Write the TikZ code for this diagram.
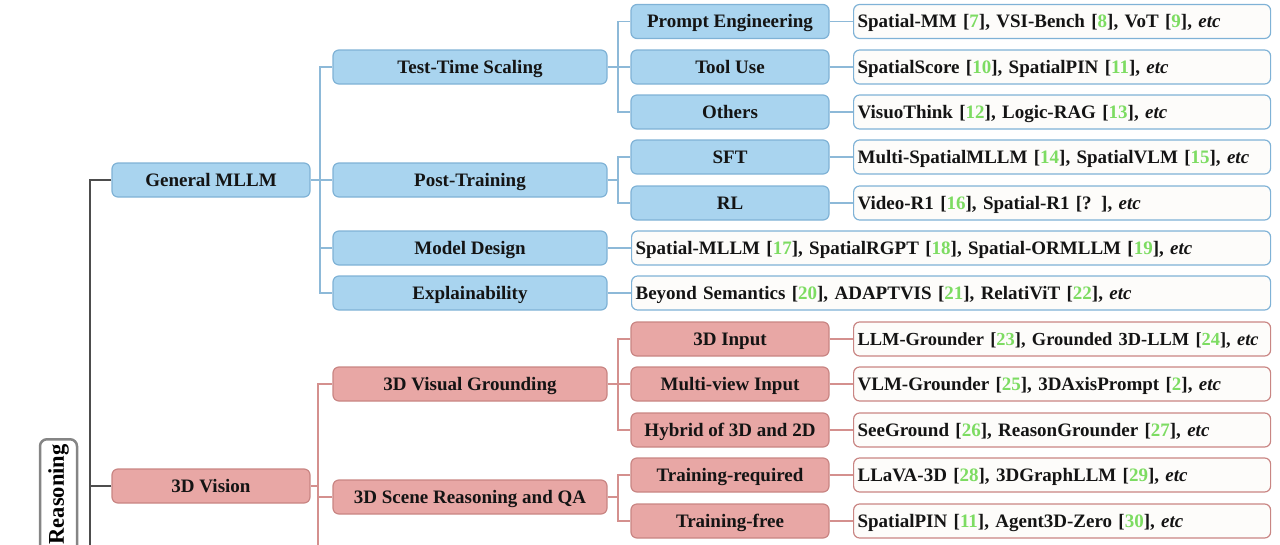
\documentclass[tikz,border=0pt]{standalone}
\usepackage{fontspec}
\setmainfont{Liberation Serif}
\definecolor{bfill}{HTML}{A9D4EF}
\definecolor{bdraw}{HTML}{7FB2D6}
\definecolor{bline}{HTML}{8DB9D8}
\definecolor{pfill}{HTML}{E8A7A5}
\definecolor{pdraw}{HTML}{C98583}
\definecolor{pline}{HTML}{D4908E}
\definecolor{leaffill}{HTML}{FDFCFA}
\definecolor{citeg}{HTML}{7DDC62}
\definecolor{rootline}{HTML}{4D4D4D}
\definecolor{rootdraw}{HTML}{858585}
\newcommand\cn[1]{[{\color{citeg}#1}]}
\begin{document}
\begin{tikzpicture}[x=1pt,y=-1pt,
  box/.style={draw, rounded corners=6pt, line width=1.2pt, minimum height=34pt, inner sep=0pt,
    text height=14pt, text depth=1.4pt,
    font=\fontsize{19}{22}\selectfont\bfseries, text=black!92},
  bb/.style={box, fill=bfill, draw=bdraw},
  pb/.style={box, fill=pfill, draw=pdraw},
  wa/.style={minimum width=198pt},
  wb/.style={minimum width=274pt},
  leaf/.style={box, fill=leaffill, anchor=west, align=left, inner xsep=4pt, text width=#1},
  bleaf/.style={leaf=#1, draw=bdraw},
  pleaf/.style={leaf=#1, draw=pdraw},
  cb/.style={draw=bline, line width=1.6pt},
  cp/.style={draw=pline, line width=1.6pt},
  c0/.style={draw=rootline, line width=1.6pt},
  rootbox/.style={draw=rootdraw, line width=2.5pt, rounded corners=7pt, fill=white,
    minimum height=37pt, text width=246pt, align=right, inner xsep=5pt, inner ysep=0pt,
    font=\fontsize{22.5}{26}\selectfont\bfseries}]
\useasboundingbox (0,0) rectangle (1280,544);
\clip (0,0) rectangle (1280,544);

% root
\node[rootbox, rotate=90, anchor=east] (root) at (58.5,438) {Reasoning};

% level 1
\node[bb,wa] (gm) at (211,180) {General MLLM};
\node[pb,wa] (v3d) at (211,486) {3D Vision};

% level 2
\node[bb,wb] (tts) at (470,67) {Test-Time Scaling};
\node[bb,wb] (pt) at (470,180) {Post-Training};
\node[bb,wb] (md) at (470,248) {Model Design};
\node[bb,wb] (ex) at (470,293) {Explainability};
\node[pb,wb] (vg) at (470,384) {3D Visual Grounding};
\node[pb,wb] (sr) at (470,497) {3D Scene Reasoning and QA};

% level 3
\node[bb,wa] (pe) at (730,21.5) {Prompt Engineering};
\node[bb,wa] (tu) at (730,67) {Tool Use};
\node[bb,wa] (ot) at (730,112) {Others};
\node[bb,wa] (sft) at (730,157) {SFT};
\node[bb,wa] (rl) at (730,203) {RL};
\node[pb,wa] (in3) at (730,339) {3D Input};
\node[pb,wa] (mv) at (730,384) {Multi-view Input};
\node[pb,wa] (hy) at (730,430) {Hybrid of 3D and 2D};
\node[pb,wa] (tr) at (730,475) {Training-required};
\node[pb,wa] (tf) at (730,521) {Training-free};

% leaves
\node[bleaf=409pt] (lpe) at (853,21.5) {Spatial-MM \cn{7}, VSI-Bench \cn{8}, VoT \cn{9}, \textit{etc}};
\node[bleaf=409pt] (ltu) at (853,67) {SpatialScore \cn{10}, SpatialPIN \cn{11}, \textit{etc}};
\node[bleaf=409pt] (lot) at (853,112) {VisuoThink \cn{12}, Logic-RAG \cn{13}, \textit{etc}};
\node[bleaf=409pt] (lsft) at (853,157) {Multi-SpatialMLLM \cn{14}, SpatialVLM \cn{15}, \textit{etc}};
\node[bleaf=409pt] (lrl) at (853,203) {Video-R1 \cn{16}, Spatial-R1 [? ], \textit{etc}};
\node[bleaf=631pt] (lmd) at (631,248) {Spatial-MLLM \cn{17}, SpatialRGPT \cn{18}, Spatial-ORMLLM \cn{19}, \textit{etc}};
\node[bleaf=631pt] (lex) at (631,293) {Beyond Semantics \cn{20}, ADAPTVIS \cn{21}, RelatiViT \cn{22}, \textit{etc}};
\node[pleaf=409pt] (lin3) at (853,339) {\mbox{\fontsize{18.4}{22}\selectfont LLM-Grounder \cn{23}, Grounded 3D-LLM \cn{24}, \textit{etc}}};
\node[pleaf=409pt] (lmv) at (853,384) {VLM-Grounder \cn{25}, 3DAxisPrompt \cn{2}, \textit{etc}};
\node[pleaf=409pt] (lhy) at (853,430) {SeeGround \cn{26}, ReasonGrounder \cn{27}, \textit{etc}};
\node[pleaf=409pt] (ltr) at (853,475) {LLaVA-3D \cn{28}, 3DGraphLLM \cn{29}, \textit{etc}};
\node[pleaf=409pt] (ltf) at (853,521) {SpatialPIN \cn{11}, Agent3D-Zero \cn{30}, \textit{etc}};

% junction columns
\coordinate (j0) at (90,0);
\coordinate (jb) at (320,0);
\coordinate (jp) at (318,0);
\coordinate (pmore) at (318,600);
\coordinate (j3) at (618,0);

% root connectors
\draw[c0] (gm.west) -- (gm.west -| j0) |- (root.south);
\draw[c0] (v3d.west) -- (v3d.west -| j0);

% general MLLM connectors
\draw[cb] (tts.west) -- (tts.west -| jb) |- (ex.west);
\draw[cb] (gm.east) -- (gm.east -| jb);
\draw[cb] (pt.west) -- (pt.west -| jb);
\draw[cb] (md.west) -- (md.west -| jb);

\draw[cb] (pe.west) -- (pe.west -| j3) |- (ot.west);
\draw[cb] (tts.east) -- (tu.west);
\draw[cb] (sft.west) -- (sft.west -| j3) |- (rl.west);
\draw[cb] (pt.east) -- (pt.east -| j3);

\draw[cb] (pe.east) -- (lpe.west);
\draw[cb] (tu.east) -- (ltu.west);
\draw[cb] (ot.east) -- (lot.west);
\draw[cb] (sft.east) -- (lsft.west);
\draw[cb] (rl.east) -- (lrl.west);
\draw[cb] (md.east) -- (lmd.west);
\draw[cb] (ex.east) -- (lex.west);

% 3D vision connectors
\draw[cp] (vg.west) -- (vg.west -| jp) -- (pmore);
\draw[cp] (v3d.east) -- (v3d.east -| jp);
\draw[cp] (sr.west) -- (sr.west -| jp);

\draw[cp] (in3.west) -- (in3.west -| j3) |- (hy.west);
\draw[cp] (vg.east) -- (mv.west);
\draw[cp] (tr.west) -- (tr.west -| j3) |- (tf.west);
\draw[cp] (sr.east) -- (sr.east -| j3);

\draw[cp] (in3.east) -- (lin3.west);
\draw[cp] (mv.east) -- (lmv.west);
\draw[cp] (hy.east) -- (lhy.west);
\draw[cp] (tr.east) -- (ltr.west);
\draw[cp] (tf.east) -- (ltf.west);
\end{tikzpicture}
\end{document}
